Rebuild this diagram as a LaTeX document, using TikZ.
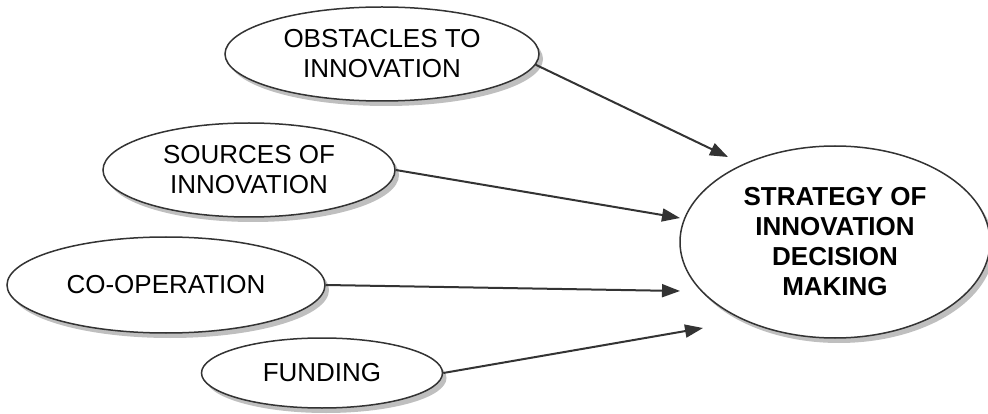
\documentclass[tikz,border=0pt]{standalone}
\usepackage{fontspec}
\setmainfont{Liberation Sans}
\usetikzlibrary{arrows.meta,shapes.geometric,shadows}

\begin{document}
\begin{tikzpicture}[x=1pt,y=-1pt,
        bubble/.style={ellipse, draw=black!80, line width=1.5pt, fill=white, inner sep=0pt, align=center,
            font=\fontsize{26}{30}\selectfont,
            drop shadow={shadow xshift=4pt, shadow yshift=-5pt, fill=black!25, opacity=1}},
        link/.style={draw=black!80, line width=2pt, -{Triangle[length=18pt,width=13pt]}}]
        \useasboundingbox (0,0) rectangle (988,414);

        \node[bubble, minimum width=314pt, minimum height=94pt] (obst) at (382,54) {OBSTACLES TO\\INNOVATION};
        \node[bubble, minimum width=292pt, minimum height=94pt] (src) at (249,170) {SOURCES OF\\INNOVATION};
        \node[bubble, minimum width=318pt, minimum height=96pt] (coop) at (166,285) {CO-OPERATION};
        \node[bubble, minimum width=241pt, minimum height=70pt] (fund) at (322,373) {FUNDING};
        \node[bubble, minimum width=310pt, minimum height=192pt] (strat) at (835,242) {\bfseries STRATEGY OF\\\bfseries INNOVATION\\\bfseries DECISION\\\bfseries MAKING};

        \coordinate (in1) at (728,157);
        \coordinate (in2) at (680,218);
        \coordinate (in3) at (680,291);
        \coordinate (in4) at (703,328);

        \draw[link] (obst.-4) -- (in1);
        \draw[link] (src.east) -- (in2);
        \draw[link] (coop.east) -- (in3);
        \draw[link] (fund.east) -- (in4);
    \end{tikzpicture}
\end{document}
